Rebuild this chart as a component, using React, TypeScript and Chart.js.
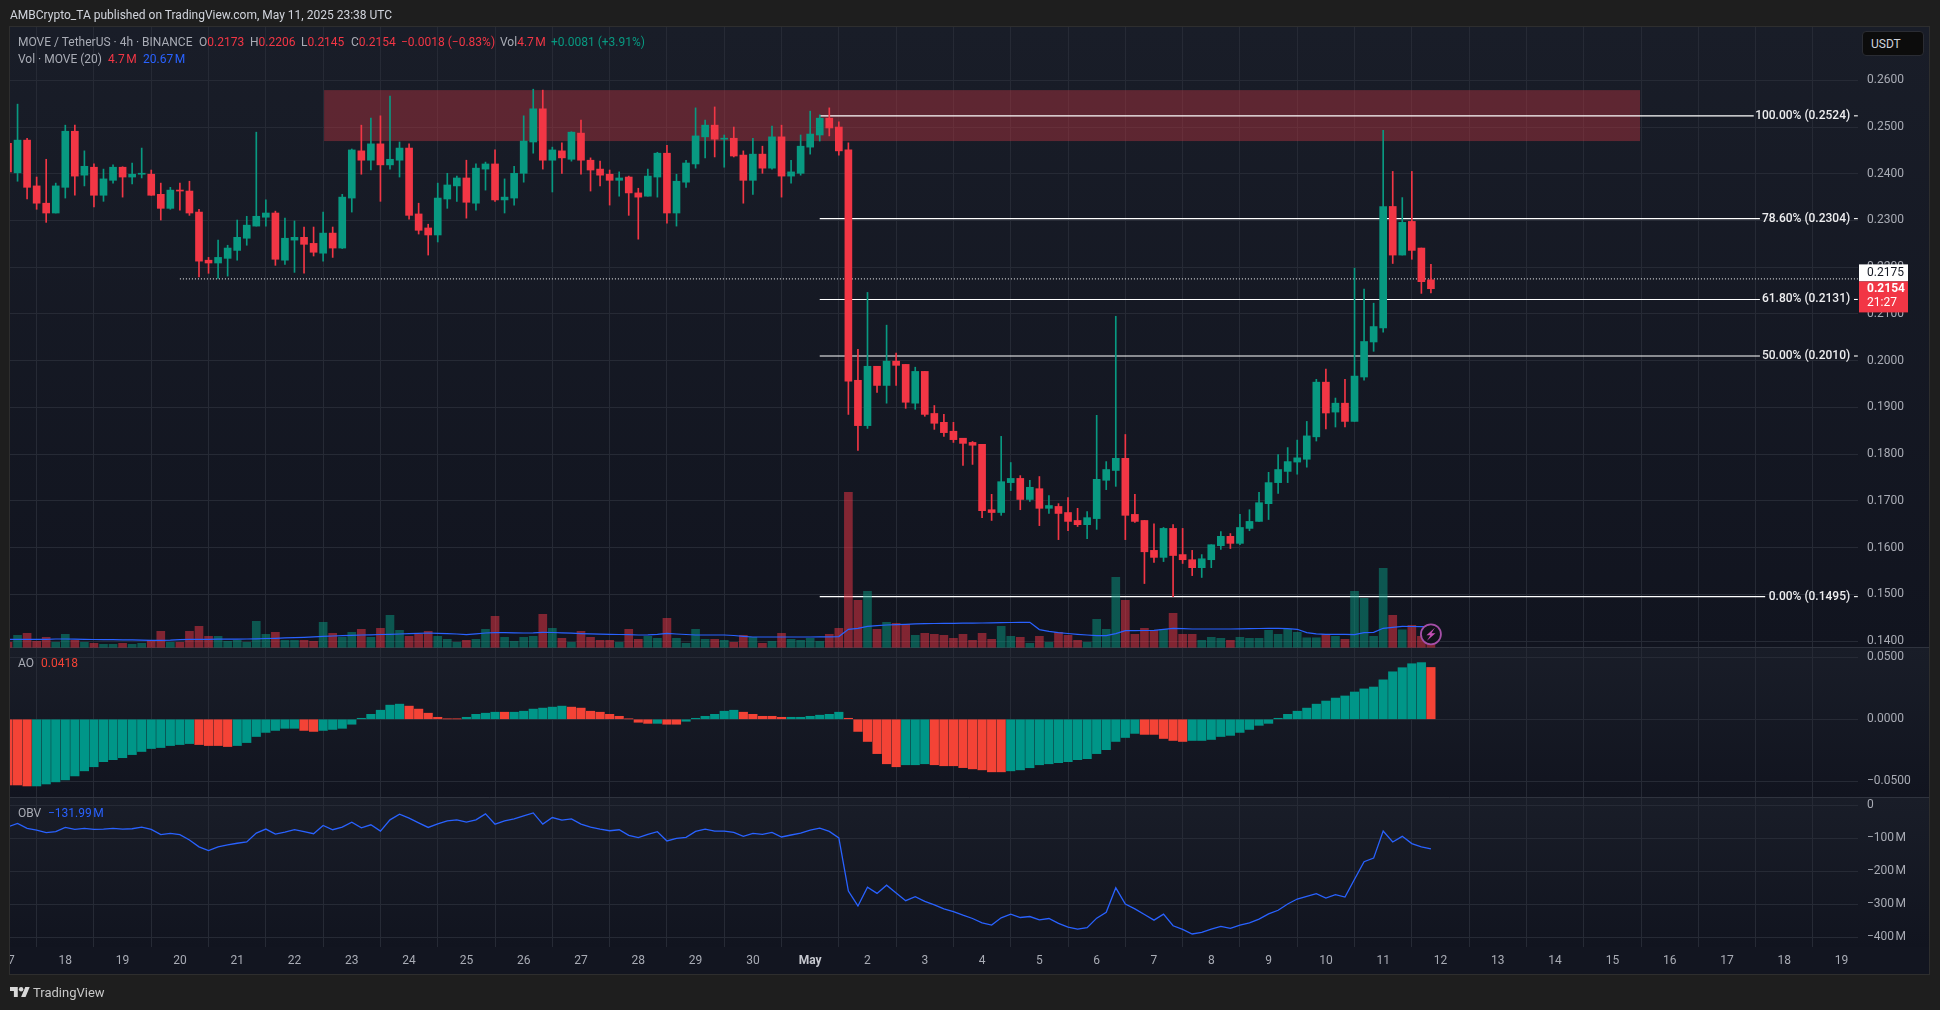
import React, { useEffect, useRef } from 'react'
import { Chart, registerables } from 'chart.js'

Chart.register(...registerables)

const dayLabels = ['17', '18', '19', '20', '21', '22', '23', '24', '25', '26', '27', '28', '29', '30', 'May', '2', '3', '4', '5', '6', '7', '8', '9', '10', '11', '12', '13', '14', '15', '16', '17', '18', '19']

const opens = [
  0.2465, 0.2402, 0.2472, 0.2374, 0.2337, 0.2316, 0.2371, 0.2491, 0.2397, 0.2414,
  0.2354, 0.2386, 0.2414, 0.2393, 0.2399, 0.2399, 0.2356, 0.2326, 0.2365, 0.2363,
  0.2318, 0.2215, 0.2209, 0.2219, 0.2236, 0.2262, 0.2288, 0.2307, 0.2316, 0.2215,
  0.2258, 0.2264, 0.2251, 0.2230, 0.2273, 0.2241, 0.2348, 0.2449, 0.2429, 0.2464,
  0.2419, 0.2429, 0.2455, 0.2314, 0.2284, 0.2269, 0.2346, 0.2374, 0.2391, 0.2337,
  0.2410, 0.2421, 0.2344, 0.2348, 0.2401, 0.2468, 0.2539, 0.2429, 0.2449, 0.2431,
  0.2487, 0.2429, 0.2410, 0.2399, 0.2386, 0.2393, 0.2359, 0.2352, 0.2393, 0.2444,
  0.2316, 0.2382, 0.2421, 0.2479, 0.2504, 0.2474, 0.2476, 0.2440, 0.2386, 0.2442,
  0.2412, 0.2479, 0.2395, 0.2401, 0.2457, 0.2483, 0.2519, 0.2500, 0.2451, 0.1958,
  0.1861, 0.1988, 0.1947, 0.1999, 0.1992, 0.1909, 0.1977, 0.1887, 0.1868, 0.1849,
  0.1834, 0.1825, 0.1821, 0.1681, 0.1675, 0.1739, 0.1748, 0.1703, 0.1726, 0.1684,
  0.1688, 0.1675, 0.1658, 0.1649, 0.1662, 0.1744, 0.1765, 0.1791, 0.1671, 0.1658,
  0.1594, 0.1579, 0.1641, 0.1585, 0.1574, 0.1557, 0.1574, 0.1604, 0.1624, 0.1609,
  0.1641, 0.1656, 0.1694, 0.1739, 0.1763, 0.1783, 0.1789, 0.1837, 0.1954, 0.1890,
  0.1909, 0.1870, 0.1965, 0.2040, 0.2070, 0.2330, 0.2226, 0.2298, 0.2241, 0.2173,
]
const closes = [
  0.2404, 0.2472, 0.2371, 0.2337, 0.2316, 0.2374, 0.2491, 0.2395, 0.2416, 0.2354,
  0.2389, 0.2414, 0.2393, 0.2399, 0.2400, 0.2354, 0.2326, 0.2365, 0.2363, 0.2316,
  0.2213, 0.2209, 0.2221, 0.2241, 0.2264, 0.2290, 0.2309, 0.2316, 0.2217, 0.2262,
  0.2264, 0.2249, 0.2232, 0.2273, 0.2241, 0.2350, 0.2451, 0.2429, 0.2464, 0.2419,
  0.2431, 0.2455, 0.2311, 0.2279, 0.2269, 0.2348, 0.2376, 0.2391, 0.2339, 0.2412,
  0.2421, 0.2344, 0.2350, 0.2401, 0.2470, 0.2539, 0.2429, 0.2451, 0.2434, 0.2489,
  0.2429, 0.2408, 0.2397, 0.2386, 0.2391, 0.2359, 0.2350, 0.2395, 0.2444, 0.2316,
  0.2384, 0.2423, 0.2481, 0.2504, 0.2474, 0.2476, 0.2438, 0.2386, 0.2442, 0.2412,
  0.2479, 0.2395, 0.2404, 0.2459, 0.2485, 0.2519, 0.2498, 0.2449, 0.1956, 0.1861,
  0.1988, 0.1947, 0.1999, 0.1990, 0.1911, 0.1977, 0.1885, 0.1866, 0.1846, 0.1831,
  0.1823, 0.1819, 0.1679, 0.1675, 0.1741, 0.1748, 0.1703, 0.1729, 0.1684, 0.1690,
  0.1673, 0.1656, 0.1649, 0.1664, 0.1746, 0.1767, 0.1791, 0.1669, 0.1656, 0.1591,
  0.1579, 0.1641, 0.1583, 0.1574, 0.1557, 0.1576, 0.1606, 0.1624, 0.1609, 0.1643,
  0.1656, 0.1696, 0.1739, 0.1767, 0.1784, 0.1792, 0.1839, 0.1954, 0.1888, 0.1909,
  0.1870, 0.1967, 0.2041, 0.2073, 0.2330, 0.2226, 0.2296, 0.2236, 0.2169, 0.2154,
]
const highs = [
  0.2468, 0.2549, 0.2476, 0.2393, 0.2431, 0.2380, 0.2504, 0.2504, 0.2449, 0.2421,
  0.2410, 0.2419, 0.2415, 0.2423, 0.2455, 0.2408, 0.2380, 0.2371, 0.2380, 0.2384,
  0.2324, 0.2221, 0.2258, 0.2247, 0.2301, 0.2309, 0.2489, 0.2344, 0.2320, 0.2305,
  0.2299, 0.2286, 0.2286, 0.2318, 0.2286, 0.2356, 0.2453, 0.2504, 0.2519, 0.2524,
  0.2566, 0.2468, 0.2464, 0.2337, 0.2292, 0.2380, 0.2401, 0.2395, 0.2429, 0.2421,
  0.2425, 0.2451, 0.2389, 0.2416, 0.2524, 0.2581, 0.2579, 0.2457, 0.2466, 0.2490,
  0.2515, 0.2434, 0.2427, 0.2408, 0.2404, 0.2395, 0.2369, 0.2410, 0.2446, 0.2461,
  0.2399, 0.2429, 0.2541, 0.2515, 0.2543, 0.2483, 0.2500, 0.2449, 0.2476, 0.2459,
  0.2502, 0.2504, 0.2429, 0.2483, 0.2534, 0.2526, 0.2541, 0.2511, 0.2466, 0.2024,
  0.2146, 0.1988, 0.2076, 0.2016, 0.1992, 0.1986, 0.1977, 0.1904, 0.1885, 0.1868,
  0.1834, 0.1827, 0.1821, 0.1714, 0.1838, 0.1782, 0.1754, 0.1744, 0.1752, 0.1711,
  0.1694, 0.1707, 0.1684, 0.1677, 0.1883, 0.1784, 0.2095, 0.1842, 0.1714, 0.1658,
  0.1651, 0.1643, 0.1649, 0.1641, 0.1594, 0.1585, 0.1606, 0.1634, 0.1630, 0.1671,
  0.1681, 0.1718, 0.1761, 0.1799, 0.1814, 0.1830, 0.1870, 0.1960, 0.1982, 0.1920,
  0.1960, 0.2198, 0.2153, 0.2123, 0.2493, 0.2405, 0.2349, 0.2405, 0.2241, 0.2206,
]
const lows = [
  0.2400, 0.2384, 0.2346, 0.2324, 0.2296, 0.2316, 0.2348, 0.2354, 0.2374, 0.2329,
  0.2341, 0.2380, 0.2350, 0.2378, 0.2391, 0.2354, 0.2301, 0.2324, 0.2322, 0.2311,
  0.2179, 0.2187, 0.2176, 0.2181, 0.2215, 0.2247, 0.2288, 0.2288, 0.2204, 0.2206,
  0.2189, 0.2187, 0.2224, 0.2213, 0.2221, 0.2240, 0.2318, 0.2399, 0.2408, 0.2341,
  0.2410, 0.2393, 0.2303, 0.2271, 0.2226, 0.2254, 0.2326, 0.2341, 0.2305, 0.2322,
  0.2365, 0.2341, 0.2316, 0.2333, 0.2382, 0.2444, 0.2410, 0.2361, 0.2401, 0.2427,
  0.2399, 0.2363, 0.2374, 0.2333, 0.2352, 0.2311, 0.2260, 0.2352, 0.2350, 0.2294,
  0.2288, 0.2371, 0.2412, 0.2434, 0.2436, 0.2414, 0.2436, 0.2337, 0.2356, 0.2401,
  0.2410, 0.2350, 0.2380, 0.2397, 0.2442, 0.2470, 0.2481, 0.2440, 0.1885, 0.1808,
  0.1855, 0.1932, 0.1909, 0.1947, 0.1898, 0.1896, 0.1881, 0.1853, 0.1838, 0.1825,
  0.1776, 0.1778, 0.1664, 0.1658, 0.1669, 0.1722, 0.1681, 0.1699, 0.1647, 0.1673,
  0.1617, 0.1636, 0.1645, 0.1619, 0.1639, 0.1724, 0.1731, 0.1617, 0.1654, 0.1523,
  0.1568, 0.1570, 0.1495, 0.1566, 0.1540, 0.1536, 0.1557, 0.1596, 0.1598, 0.1606,
  0.1636, 0.1656, 0.1660, 0.1716, 0.1739, 0.1757, 0.1772, 0.1828, 0.1854, 0.1858,
  0.1858, 0.1870, 0.1958, 0.2020, 0.2061, 0.2208, 0.2226, 0.2217, 0.2144, 0.2145,
]

// volume in millions
const volumes = [
  5, 12, 14, 6, 10, 5, 13, 7, 5, 4,
  3, 3, 4, 3, 4, 7, 16, 5, 5, 16,
  21, 11, 11, 6, 7, 5, 26, 13, 15, 7,
  7, 7, 6, 25, 14, 10, 15, 18, 10, 19,
  32, 17, 11, 13, 16, 11, 8, 5, 7, 8,
  18, 31, 10, 6, 10, 11, 33, 19, 9, 5,
  16, 10, 7, 7, 5, 18, 8, 11, 9, 29,
  9, 4, 18, 8, 8, 7, 5, 12, 10, 4,
  6, 14, 8, 7, 9, 6, 13, 19, 155, 47,
  56, 18, 25, 24, 23, 12, 14, 13, 12, 9,
  13, 7, 14, 8, 21, 11, 10, 4, 11, 5,
  15, 12, 7, 5, 28, 18, 70, 47, 13, 19,
  17, 18, 34, 13, 13, 7, 10, 9, 7, 10,
  9, 9, 17, 13, 18, 15, 9.5, 9.5, 13, 11,
  8, 56, 49, 11, 79, 32, 17.5, 22, 11, 4.7,
]
const volumeMa = [
  8, 8, 8, 8, 8, 8.3, 8.3, 8.2, 8, 7.8,
  7.7, 7.6, 7.5, 7.4, 7.2, 7, 7, 7.2, 7.7, 8,
  8, 8, 8.1, 8.2, 8.2, 8.3, 8.5, 8.8, 9, 9.4,
  9.7, 10, 10.5, 11, 11.3, 11.7, 12, 12.3, 12.5, 12.8,
  13, 13.3, 13.6, 14, 14.3, 14, 13.7, 13.3, 12.7, 13.5,
  14.3, 14.7, 14.6, 14.4, 14.3, 14.5, 15, 14.8, 14.5, 14.2,
  13.7, 13.4, 13.2, 13, 12.8, 12.6, 12.3, 12.5, 13, 14,
  13.3, 12.8, 12.3, 12.3, 12.3, 12.3, 11.8, 11, 10.3, 10.3,
  10.3, 10.3, 10.3, 10.3, 10.3, 10.4, 10.5, 10.7, 18, 19,
  21, 21.6, 22.3, 22.6, 23, 23.4, 23.7, 23.8, 23.9, 24,
  24.1, 24.2, 24.3, 24.5, 24.7, 24.8, 25, 25, 17.7, 16,
  14.7, 13.8, 13, 12.3, 11.7, 11.7, 13.7, 16.7, 16.7, 16.8,
  17, 18, 19, 18.7, 18.3, 18.3, 18.3, 18.3, 18.3, 18.5,
  18.6, 18.8, 19, 18.9, 18.7, 18, 14.7, 13.5, 13, 13,
  13, 12.7, 14.7, 15, 19, 20, 21, 20.8, 20.7, 20.67,
]

const aoValues = [
  -0.053, -0.053, -0.0538, -0.0538, -0.0522, -0.0505, -0.0489, -0.0457, -0.0416, -0.0383,
  -0.0342, -0.0326, -0.031, -0.0285, -0.026, -0.0236, -0.0228, -0.0212, -0.0204, -0.0196,
  -0.0204, -0.0212, -0.0212, -0.022, -0.0212, -0.0188, -0.0139, -0.0106, -0.009, -0.0073,
  -0.0073, -0.009, -0.0098, -0.009, -0.0082, -0.0073, -0.004, 0.0008, 0.004, 0.0073,
  0.0114, 0.0122, 0.0106, 0.0082, 0.0049, 0.0016, 0.0003, 0.0003, 0.0016, 0.004,
  0.0049, 0.0057, 0.0057, 0.0057, 0.0065, 0.0082, 0.009, 0.0098, 0.0106, 0.0098,
  0.009, 0.0065, 0.0057, 0.004, 0.0024, 0.0003, -0.0024, -0.0033, -0.0033, -0.004,
  -0.004, -0.0016, 0.0008, 0.0024, 0.004, 0.0065, 0.0073, 0.0057, 0.004, 0.0024,
  0.0024, 0.0016, 0.0016, 0.0016, 0.0024, 0.0033, 0.004, 0.0057, 0.0008, -0.0098,
  -0.0179, -0.0277, -0.0359, -0.0383, -0.0367, -0.0367, -0.0359, -0.0367, -0.0375, -0.0375,
  -0.039, -0.04, -0.0408, -0.0424, -0.0424, -0.0416, -0.0408, -0.0391, -0.0367, -0.0359,
  -0.035, -0.0342, -0.0326, -0.0318, -0.0277, -0.0245, -0.0179, -0.0147, -0.0114, -0.0122,
  -0.0122, -0.0155, -0.0171, -0.0179, -0.0171, -0.0171, -0.0163, -0.0139, -0.013, -0.0106,
  -0.0082, -0.0049, -0.0033, 0.0008, 0.004, 0.0065, 0.009, 0.0122, 0.0147, 0.0171,
  0.0188, 0.022, 0.0245, 0.026, 0.0318, 0.0383, 0.0416, 0.0448, 0.0457, 0.0418,
]
// bars the AO histogram paints red
const aoFallingBars = [0, 1, 2, 20, 21, 22, 23, 31, 32, 42, 43, 44, 45, 46, 47, 52, 59, 60, 61, 62, 63, 64, 65, 66, 67, 69, 70, 77, 78, 79, 80, 81, 88, 89, 90, 91, 92, 93, 97, 98, 99, 100, 101, 102, 103, 104, 119, 120, 121, 122, 123, 149]

// OBV in millions
const obvValues = [
  -65, -55, -70, -75, -83, -80, -67, -73, -70, -73,
  -72, -70, -72, -71, -66, -73, -89, -85, -89, -105,
  -126, -137, -126, -120, -115, -111, -84, -72, -87, -81,
  -74, -80, -86, -61, -74, -66, -51, -68, -59, -78,
  -44, -27, -39, -53, -67, -56, -47, -44, -51, -44,
  -26, -57, -47, -41, -32, -23, -57, -37, -45, -41,
  -57, -66, -72, -77, -74, -91, -98, -88, -80, -108,
  -100, -97, -79, -72, -78, -78, -82, -94, -85, -88,
  -82, -96, -90, -84, -75, -69, -79, -99, -260, -305,
  -248, -267, -242, -266, -289, -277, -291, -302, -314, -322,
  -333, -343, -356, -363, -341, -330, -340, -337, -347, -343,
  -358, -369, -375, -371, -342, -324, -250, -299, -314, -331,
  -348, -330, -365, -376, -390, -385, -375, -367, -373, -363,
  -356, -345, -329, -318, -299, -284, -276, -268, -281, -271,
  -278, -224, -171, -160, -78, -111, -94, -116, -126, -131.99,
]

const fibPrices = [0.2524, 0.2304, 0.2131, 0.201, 0.1495]
const fibLabels = ['100.00% (0.2524)', '78.60% (0.2304)', '61.80% (0.2131)', '50.00% (0.2010)', '0.00% (0.1495)']
const fibLabelStart = [182.8, 183.45, 183.45, 183.45, 184.0]
const fibStartBar = 85
const fibEndBar = 193.7
const fibTailBar = 193.3
const fibTextBar = 192.9

const zoneBars = [33.1, 170.9]
const zonePrices = [0.2579, 0.247]
const levelStartBar = 18
const levelPrice = 0.2175

const priceTicks = [0.14, 0.15, 0.16, 0.17, 0.18, 0.19, 0.2, 0.21, 0.22, 0.23, 0.24, 0.25, 0.26]
const aoTicks = [-0.05, 0, 0.05]
const obvTicks = [-400, -300, -200, -100, 0]

const FONT = 'Roboto, sans-serif'
const GREEN = '#089981'
const RED = '#f23645'
const AXIS_TEXT = '#a9acb5'
const GRID = '#262a35'

const bars = opens.map((_, i) => i)
const isUp = (i: number) => closes[i] >= opens[i]

const paneGradient = (ctx: CanvasRenderingContext2D, top: number, bottom: number) => {
  const g = ctx.createLinearGradient(0, top, 0, bottom)
  g.addColorStop(0, '#191d28')
  g.addColorStop(1, '#11141f')
  return g
}

const backgroundPlugin = {
  id: 'tvBackground',
  beforeDraw(chart: any) {
    const { ctx, scales, width, height } = chart
    ctx.save()
    ctx.fillStyle = '#1e1e1e'
    ctx.fillRect(0, 0, width, height)
    for (const id of ['price', 'ao', 'obv']) {
      const s = scales[id]
      ctx.fillStyle = paneGradient(ctx, s.top, s.bottom)
      ctx.fillRect(10, s.top, s.right - 10, s.bottom - s.top)
    }
    ctx.fillStyle = '#121520'
    ctx.fillRect(10, scales.x.top, scales.price.right - 10, scales.x.bottom - scales.x.top)
    ctx.strokeStyle = '#2e2e2e'
    ctx.lineWidth = 1
    ctx.strokeRect(9.5, scales.price.top - 0.5, scales.price.right - 9, scales.x.bottom - scales.price.top + 1)
    ctx.restore()
  },
  beforeDatasetsDraw(chart: any) {
    const { ctx, scales } = chart
    const { x, price, ao } = scales
    ctx.save()
    // pane separators
    ctx.strokeStyle = '#2f333e'
    ctx.lineWidth = 1
    for (const s of [price, ao]) {
      ctx.beginPath()
      ctx.moveTo(10, Math.round(s.bottom) + 0.5)
      ctx.lineTo(s.right, Math.round(s.bottom) + 0.5)
      ctx.stroke()
    }
    // supply zone
    ctx.fillStyle = 'rgba(200, 54, 68, 0.4)'
    const x0 = x.getPixelForValue(zoneBars[0])
    const x1 = x.getPixelForValue(zoneBars[1])
    const y0 = price.getPixelForValue(zonePrices[0])
    const y1 = price.getPixelForValue(zonePrices[1])
    ctx.fillRect(x0, y0, x1 - x0, y1 - y0)
    ctx.restore()
  },
  afterDraw(chart: any) {
    const { ctx, scales } = chart
    const { x, price, vol } = scales
    ctx.save()

    // clipped first day label
    ctx.save()
    ctx.beginPath()
    ctx.rect(10, x.top, 60, x.bottom - x.top)
    ctx.clip()
    ctx.font = `12px ${FONT}`
    ctx.fillStyle = AXIS_TEXT
    ctx.textAlign = 'center'
    ctx.textBaseline = 'middle'
    ctx.fillText(dayLabels[0], x.getPixelForValue(0), 961)
    ctx.restore()

    // fib labels
    ctx.font = `500 12px ${FONT}`
    ctx.fillStyle = '#eeeeF0'
    ctx.textAlign = 'right'
    ctx.textBaseline = 'middle'
    fibPrices.forEach((p, i) => {
      ctx.fillText(fibLabels[i], x.getPixelForValue(fibTextBar), price.getPixelForValue(p))
    })

    // price tags
    const right = x.right
    const tagTop = price.getPixelForValue(levelPrice) - 14.5
    ctx.textAlign = 'left'
    ctx.fillStyle = '#ffffff'
    ctx.fillRect(right + 1, tagTop, 49, 17)
    ctx.fillStyle = RED
    ctx.fillRect(right + 1, tagTop + 17, 49, 31)
    ctx.fillStyle = '#131722'
    ctx.font = `12px ${FONT}`
    ctx.fillText('0.2175', right + 9, tagTop + 9)
    ctx.fillStyle = '#ffffff'
    ctx.font = `bold 12px ${FONT}`
    ctx.fillText('0.2154', right + 9, tagTop + 25)
    ctx.font = `12px ${FONT}`
    ctx.fillText('21:27', right + 9, tagTop + 39)

    // alert badge on the last bar
    const bx = x.getPixelForValue(bars[bars.length - 1])
    const by = vol.getPixelForValue(13)
    ctx.beginPath()
    ctx.arc(bx, by, 10, 0, Math.PI * 2)
    ctx.fillStyle = '#10121a'
    ctx.fill()
    ctx.strokeStyle = '#a54fa8'
    ctx.lineWidth = 1.8
    ctx.stroke()
    ctx.beginPath()
    ctx.moveTo(bx + 4, by - 6.5)
    ctx.lineTo(bx - 4.5, by + 1)
    ctx.lineTo(bx - 0.5, by + 1)
    ctx.lineTo(bx - 4, by + 6.5)
    ctx.lineTo(bx + 4.5, by - 1)
    ctx.lineTo(bx + 0.5, by - 1)
    ctx.closePath()
    ctx.fillStyle = '#c44fb5'
    ctx.fill()
    ctx.restore()
  },
}

const Text: React.FC<{ x: number; y: number; color?: string; size?: number; children: React.ReactNode }> = ({
  x,
  y,
  color = '#a9acb5',
  size = 12,
  children,
}) => (
  <span
    style={{
      position: 'absolute',
      left: x,
      top: y - 10,
      height: 20,
      lineHeight: '20px',
      color,
      fontSize: size,
      fontFamily: FONT,
      whiteSpace: 'nowrap',
    }}
  >
    {children}
  </span>
)

const App: React.FC = () => {
  const canvasRef = useRef<HTMLCanvasElement>(null)

  useEffect(() => {
    const canvas = canvasRef.current
    if (!canvas) return

    const lineStyle = { type: 'line' as const, pointRadius: 0, xAxisID: 'x', yAxisID: 'price' }

    const fibDatasets = fibPrices.flatMap((p, i) => [
      {
        ...lineStyle,
        order: 6,
        borderColor: '#ffffff',
        borderWidth: 1.1,
        data: [
          { x: fibStartBar, y: p },
          { x: fibLabelStart[i], y: p },
        ],
      },
      {
        ...lineStyle,
        order: 6,
        borderColor: '#ffffff',
        borderWidth: 1.1,
        data: [
          { x: fibTailBar, y: p },
          { x: fibEndBar, y: p },
        ],
      },
    ])

    const chart = new Chart(canvas, {
      type: 'bar',
      data: {
        datasets: [
          ...fibDatasets,
          {
            ...lineStyle,
            order: 6,
            borderColor: '#ffffff',
            borderWidth: 1,
            borderDash: [1, 2],
            data: [
              { x: levelStartBar, y: levelPrice },
              { x: fibEndBar, y: levelPrice },
            ],
          },
          {
            type: 'bar',
            order: 5,
            yAxisID: 'vol',
            grouped: false,
            barThickness: 8,
            backgroundColor: bars.map((i) => (isUp(i) ? 'rgba(8,153,129,0.5)' : 'rgba(242,54,69,0.5)')),
            data: bars.map((i) => ({ x: i, y: volumes[i] })),
          },
          {
            type: 'line',
            order: 4,
            yAxisID: 'vol',
            pointRadius: 0,
            borderColor: '#2962ff',
            borderWidth: 1.2,
            data: bars.map((i) => ({ x: i, y: volumeMa[i] })),
          },
          {
            type: 'bar',
            order: 3,
            yAxisID: 'price',
            grouped: false,
            barThickness: 1,
            backgroundColor: bars.map((i) => (isUp(i) ? GREEN : RED)),
            data: bars.map((i) => ({ x: i, y: [lows[i], highs[i]] })),
          },
          {
            type: 'bar',
            order: 2,
            yAxisID: 'price',
            grouped: false,
            barThickness: 7,
            minBarLength: 1,
            backgroundColor: bars.map((i) => (isUp(i) ? GREEN : RED)),
            data: bars.map((i) => ({ x: i, y: [opens[i], closes[i]] })),
          },
          {
            type: 'bar',
            order: 2,
            yAxisID: 'ao',
            grouped: false,
            barThickness: 8.5,
            backgroundColor: bars.map((i) => (aoFallingBars.includes(i) ? '#f44336' : '#009688')),
            data: bars.map((i) => ({ x: i, y: aoValues[i] })),
          },
          {
            type: 'line',
            order: 2,
            yAxisID: 'obv',
            pointRadius: 0,
            borderColor: '#2962ff',
            borderWidth: 1.3,
            data: bars.map((i) => ({ x: i, y: obvValues[i] })),
          },
        ] as any,
      },
      options: {
        animation: false,
        responsive: false,
        devicePixelRatio: 1,
        events: [],
        layout: { padding: { left: 10, top: 27, right: 11, bottom: 36 } },
        plugins: { legend: { display: false }, tooltip: { enabled: false } },
        scales: {
          x: {
            type: 'linear',
            offset: false,
            min: 0.21,
            max: 193.72,
            border: { display: false },
            grid: { color: GRID, drawTicks: false },
            afterBuildTicks: (s: any) => {
              s.ticks = dayLabels.map((_, k) => ({ value: k * 6 })).filter((t) => t.value >= s.min)
            },
            afterFit: (s: any) => {
              s.height = 27
            },
            ticks: {
              autoSkip: false,
              maxRotation: 0,
              padding: 7,
              color: (c: any) => (dayLabels[c.tick?.value / 6] === 'May' ? '#c6c8cf' : AXIS_TEXT),
              font: (c: any) => ({
                family: FONT,
                size: 12,
                weight: dayLabels[c.tick?.value / 6] === 'May' ? 'bold' : 'normal',
              }),
              callback: (v: any) => dayLabels[v / 6],
            },
          },
          price: {
            type: 'linear',
            position: 'right',
            stack: 'panes',
            stackWeight: 620,
            weight: 0,
            min: 0.13872,
            max: 0.27141,
            border: { display: false },
            grid: { color: GRID, drawTicks: false },
            afterBuildTicks: (s: any) => {
              s.ticks = priceTicks.map((value) => ({ value }))
            },
            afterFit: (s: any) => {
              s.width = 71
            },
            ticks: {
              autoSkip: false,
              crossAlign: 'near',
              padding: 9,
              color: AXIS_TEXT,
              font: { family: FONT, size: 12 },
              callback: (v: any) => Number(v).toFixed(4),
            },
          },
          ao: {
            type: 'linear',
            position: 'right',
            stack: 'panes',
            stackWeight: 150,
            weight: 1,
            min: -0.0627,
            max: 0.0583,
            border: { display: false },
            grid: { color: GRID, drawTicks: false },
            afterBuildTicks: (s: any) => {
              s.ticks = aoTicks.map((value) => ({ value }))
            },
            afterFit: (s: any) => {
              s.width = 71
            },
            ticks: {
              autoSkip: false,
              crossAlign: 'near',
              padding: 9,
              color: AXIS_TEXT,
              font: { family: FONT, size: 12 },
              callback: (v: any) => Number(v).toFixed(4).replace('-', '\u2212'),
            },
          },
          obv: {
            type: 'linear',
            position: 'right',
            stack: 'panes',
            stackWeight: 150,
            weight: 2,
            min: -429.4,
            max: 25.2,
            border: { display: false },
            grid: { color: GRID, drawTicks: false },
            afterBuildTicks: (s: any) => {
              s.ticks = obvTicks.map((value) => ({ value }))
            },
            afterFit: (s: any) => {
              s.width = 71
            },
            ticks: {
              autoSkip: false,
              crossAlign: 'near',
              padding: 9,
              color: AXIS_TEXT,
              font: { family: FONT, size: 12 },
              callback: (v: any) => (v === 0 ? '0' : `\u2212${Math.abs(v)}\u202fM`),
            },
          },
          // spans the whole plot height, zero sits on the price pane's bottom edge
          vol: {
            type: 'linear',
            display: false,
            position: 'right',
            weight: 3,
            min: -299.7,
            max: 620.3,
          },
        },
      } as any,
      plugins: [backgroundPlugin],
    })

    return () => {
      chart.destroy()
    }
  }, [])

  const red = '#f23645'
  const upGreen = '#089981'
  return (
    <div style={{ position: 'fixed', left: 0, top: 0, width: 1940, height: 1010, overflow: 'hidden', background: '#1e1e1e' }}>
      <canvas ref={canvasRef} width={1940} height={1010} style={{ position: 'absolute', left: 0, top: 0, display: 'block' }} />

      <Text x={10} y={15} color="#d1d4dc">AMBCrypto_TA published on TradingView.com, May 11, 2025 23:38 UTC</Text>

      <Text x={18} y={42}>MOVE / TetherUS · 4h · BINANCE</Text>
      <Text x={199} y={42}>O<span style={{ color: red }}>0.2173</span></Text>
      <Text x={250} y={42}>H<span style={{ color: red }}>0.2206</span></Text>
      <Text x={301} y={42}>L<span style={{ color: red }}>0.2145</span></Text>
      <Text x={351} y={42}>C<span style={{ color: red }}>0.2154</span></Text>
      <Text x={401} y={42} color={red}>−0.0018 (−0.83%)</Text>
      <Text x={500} y={42}>Vol<span style={{ color: red }}>4.7{'\u202f'}M</span></Text>
      <Text x={551} y={42} color={upGreen}>+0.0081 (+3.91%)</Text>

      <Text x={18} y={59}>Vol · MOVE (20)</Text>
      <Text x={108} y={59} color={red}>4.7{'\u202f'}M</Text>
      <Text x={143} y={59} color="#2962ff">20.67{'\u202f'}M</Text>

      <Text x={18} y={663}>AO</Text>
      <Text x={41} y={663} color="#f44336">0.0418</Text>
      <Text x={18} y={813}>OBV</Text>
      <Text x={48} y={813} color="#2962ff">−131.99{'\u202f'}M</Text>

      <div style={{ position: 'absolute', left: 1862, top: 31, width: 62, height: 25, boxSizing: 'border-box', background: '#0c0c0c', border: '1px solid #2a2c33', borderRadius: 4 }} />
      <Text x={1871} y={44} color="#d1d4dc">USDT</Text>

      <svg style={{ position: 'absolute', left: 10, top: 987 }} width={20} height={10} viewBox="0 4 36 18">
        <path fill="#d8d8d8" d="M14 22H7V11H0V4h14v18zM28 22h-8l7.5-18h8L28 22z" />
        <circle fill="#d8d8d8" cx="20" cy="8" r="4" />
      </svg>
      <Text x={33} y={993} color="#c8c8c8" size={13}>TradingView</Text>
    </div>
  )
}

export default App
